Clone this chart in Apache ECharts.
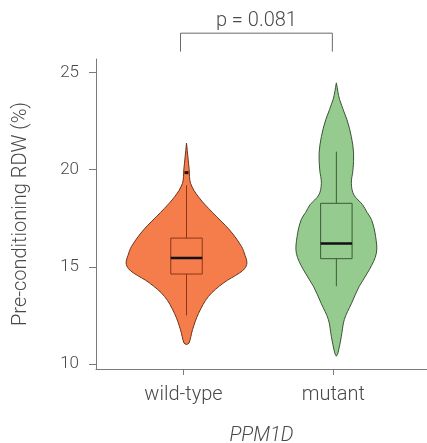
<!DOCTYPE html>
<html>
<head>
<meta charset="utf-8">
<script src="https://cdn.jsdelivr.net/npm/echarts@6/dist/echarts.min.js"></script>
<style>
html,body{margin:0;padding:0;background:#fff;}
#chart{width:427px;height:443px;}
</style>
</head>
<body>
<div id="chart"></div>
<script>
// ---- data ----
const categories = ['wild-type', 'mutant'];
const yTicks = [10, 15, 20, 25];
const xAxisTitle = 'PPM1D';
const yAxisTitle = 'Pre-conditioning RDW (%)';
const pLabel = 'p = 0.081';

// violin outlines: value (y) and half-width (in x-axis units)
const wtProfileY = [21.37, 20.6, 20.0, 19.3, 18.6, 17.8, 16.9, 16.05, 15.6, 15.2, 14.9, 14.68, 14.17, 13.48, 12.6, 11.76, 11.08, 11.0];
const wtProfileW = [0, 0.01, 0.018, 0.027, 0.08, 0.173, 0.287, 0.367, 0.39, 0.403, 0.387, 0.353, 0.247, 0.147, 0.08, 0.04, 0.017, 0];
const mutProfileY = [24.47, 23.6, 22.57, 21.7, 20.85, 20.0, 19.3, 18.7, 18.2, 17.8, 17.42, 16.56, 15.7, 14.85, 14.0, 13.1, 12.28, 11.4, 10.57, 10.4];
const mutProfileW = [0, 0.022, 0.071, 0.1, 0.115, 0.111, 0.1, 0.117, 0.175, 0.205, 0.235, 0.262, 0.267, 0.22, 0.153, 0.1, 0.053, 0.033, 0.011, 0];

// box plot statistics
const whiskerLow  = [12.5, 14.0];
const q1          = [14.63, 15.42];
const medians     = [15.45, 16.2];
const q3          = [16.48, 18.27];
const whiskerHigh = [19.2, 20.93];
const outliers = [[1, 19.85]];

// ---- style ----
const fills = ['#F47D4B', '#96CB8F'];
const outlines = ['#6e3418', '#3a5535'];
const boxStrokes = ['#8f3516', '#3b5a37'];
const textColor = '#4a4a4a';
const font = 'Roboto';

const profiles = [
  { y: wtProfileY, w: wtProfileW },
  { y: mutProfileY, w: mutProfileW }
];
const positions = categories.map((c, i) => i + 1);
const BOX_HALF = 0.105;
const SHIFT = 3; // px, violins drawn slightly right of ticks

const chart = echarts.init(document.getElementById('chart'), null, { renderer: 'canvas' });

const option = {
  backgroundColor: '#fff',
  animation: false,
  grid: { left: 96, top: 59, right: 0, bottom: 74, containLabel: false, outerBoundsMode: 'none' },
  xAxis: {
    type: 'value',
    min: 0.416, max: 2.625,
    name: xAxisTitle,
    nameLocation: 'middle',
    nameGap: 57,
    nameTextStyle: { fontFamily: font, fontWeight: 300, fontSize: 20, fontStyle: 'italic', color: textColor },
    axisLine: { show: true, lineStyle: { color: '#7a7a7a', width: 1 } },
    axisTick: { show: true, length: 6, customValues: positions, lineStyle: { color: '#7a7a7a' } },
    axisLabel: {
      customValues: positions,
      formatter: v => categories[Math.round(v) - 1],
      fontFamily: font, fontWeight: 300, fontSize: 20, color: textColor, margin: 16
    },
    splitLine: { show: false }
  },
  yAxis: {
    type: 'value',
    min: 9.74, max: 25.7,
    name: yAxisTitle,
    nameLocation: 'middle',
    nameGap: 65,
    nameTextStyle: { fontFamily: font, fontWeight: 300, fontSize: 20, color: textColor },
    axisLine: { show: true, lineStyle: { color: '#7a7a7a', width: 1 } },
    axisTick: { show: true, length: 7, customValues: yTicks, lineStyle: { color: '#7a7a7a' } },
    axisLabel: { customValues: yTicks, fontFamily: font, fontWeight: 300, fontSize: 17, color: textColor, margin: 17 },
    splitLine: { show: false }
  },
  series: [
    {
      type: 'custom',
      clip: false,
      data: positions.map(p => [p]),
      renderItem: function (params, api) {
        const i = params.dataIndex;
        const pos = api.value(0);
        const prof = profiles[i];
        const cx = api.coord([pos, 15])[0] + SHIFT;
        const unit = api.size([1, 0])[0];
        const right = [], left = [];
        for (let k = 0; k < prof.y.length; k++) {
          const py = api.coord([pos, prof.y[k]])[1];
          right.push([cx + prof.w[k] * unit, py]);
          left.push([cx - prof.w[k] * unit, py]);
        }
        const pts = right.concat(left.reverse());
        const yq1 = api.coord([pos, q1[i]])[1];
        const yq3 = api.coord([pos, q3[i]])[1];
        const ymed = api.coord([pos, medians[i]])[1];
        const ylo = api.coord([pos, whiskerLow[i]])[1];
        const yhi = api.coord([pos, whiskerHigh[i]])[1];
        const bw = BOX_HALF * unit;
        const children = [
          { type: 'polygon', shape: { points: pts, smooth: 0.35 },
            style: { fill: fills[i], stroke: outlines[i], lineWidth: 1 } },
          { type: 'line', shape: { x1: cx, y1: yq3, x2: cx, y2: yhi },
            style: { stroke: boxStrokes[i], lineWidth: 1 } },
          { type: 'line', shape: { x1: cx, y1: yq1, x2: cx, y2: ylo },
            style: { stroke: boxStrokes[i], lineWidth: 1 } },
          { type: 'rect', shape: { x: cx - bw, y: yq3, width: 2 * bw, height: yq1 - yq3 },
            style: { fill: 'none', stroke: boxStrokes[i], lineWidth: 1 } },
          { type: 'line', shape: { x1: cx - bw, y1: ymed, x2: cx + bw, y2: ymed },
            style: { stroke: '#111', lineWidth: 2.5 } }
        ];
        outliers.forEach(o => {
          if (o[0] === pos) {
            const oy = api.coord([pos, o[1]])[1];
            children.push({ type: 'rect', shape: { x: cx - 2, y: oy - 1.5, width: 4, height: 3 },
              style: { fill: '#2a1008' } });
          }
        });
        return { type: 'group', children: children };
      }
    },
    {
      // significance bracket
      type: 'custom',
      clip: false,
      data: [[positions[0], positions[1]]],
      renderItem: function (params, api) {
        const a = api.coord([api.value(0), 27.03]);
        const b = api.coord([api.value(1), 27.03]);
        const drop = api.coord([api.value(0), 26.08])[1];
        const x1 = a[0] - 3, x2 = b[0] - 1, y = a[1];
        return {
          type: 'group',
          children: [
            { type: 'polyline', shape: { points: [[x1, drop], [x1, y], [x2, y], [x2, drop]] },
              style: { stroke: '#6a6a6a', lineWidth: 1, fill: 'none' } },
            { type: 'text', style: { x: (x1 + x2) / 2, y: y - 12, text: pLabel, fill: textColor,
              fontFamily: font, fontWeight: 300, fontSize: 20, align: 'center', verticalAlign: 'middle' } }
          ]
        };
      }
    }
  ]
};
chart.setOption(option);
</script>
</body>
</html>
